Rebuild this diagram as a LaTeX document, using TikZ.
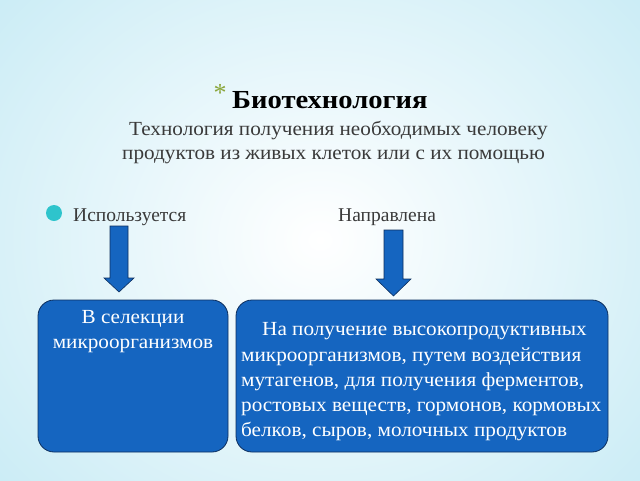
\documentclass[tikz,border=0pt]{standalone}
\usepackage{fontspec}
\setmainfont{Liberation Serif}
\newfontfamily\tnr{Liberation Serif}
\newfontfamily\tnrw{Liberation Serif}[FakeStretch=1.06]
\newfontfamily\tnrt{Liberation Serif}[FakeStretch=1.1]
\definecolor{boxblue}{HTML}{1565C0}
\definecolor{boxedge}{HTML}{0D2F5E}
\definecolor{bgedge}{HTML}{C2E9F4}
\definecolor{dotcyan}{HTML}{2EC4CC}
\definecolor{stargreen}{HTML}{8AA63A}
\definecolor{txtgray}{HTML}{3A3A3A}
\tikzset{
  bluebox/.style={draw=boxedge, line width=0.8pt, fill=boxblue, rounded corners=16pt},
  boxtxt/.style={text=white, font=\tnrw\fontsize{20}{26}\selectfont, inner sep=0pt},
  arrowfill/.style={draw=boxedge, line width=0.6pt, fill=boxblue},
  plain/.style={text=txtgray, font=\tnrw\fontsize{20}{24}\selectfont, inner sep=0pt},
  label/.style={text=txtgray, font=\tnr\fontsize{19.5}{24}\selectfont, inner sep=0pt},
}
\begin{document}
\begin{tikzpicture}[x=1pt,y=-1pt]
\useasboundingbox (0,0) rectangle (640,480);
\shade[inner color=white, outer color=bgedge] (-180,-200) rectangle (820,680);
\clip (0,0) rectangle (640,480);
% title
\node[text=stargreen, font=\tnr\fontsize{26}{26}\selectfont, inner sep=0pt, anchor=center] (star) at (220,93) {*};
\node[font=\tnrt\bfseries\fontsize{26}{28}\selectfont, inner sep=0pt, anchor=base west] (title) at (232,108) {Биотехнология};
\node[plain, anchor=base west] (sub1) at (129,135) {Технология получения необходимых человеку};
\node[plain, anchor=base west] (sub2) at (122,159.5) {продуктов из живых клеток или с их помощью};
% bullet labels
\fill[dotcyan] (54,213) circle (8);
\node[label, anchor=base west] (use) at (73,221.5) {Используется};
\node[label, anchor=base west] (dir) at (338,221.5) {Направлена};
% boxes
\draw[bluebox] (38,300) rectangle (228,452);
\draw[bluebox] (236,300) rectangle (608,452);
\node[boxtxt, anchor=base] (l1) at (133,323) {В селекции};
\node[boxtxt, anchor=base] (l2) at (133,348.5) {микроорганизмов};
\node[boxtxt, anchor=base west] (r1) at (262,335) {На получение высокопродуктивных};
\node[boxtxt, anchor=base west] (r2) at (241,361) {микроорганизмов, путем воздействия};
\node[boxtxt, anchor=base west] (r3) at (241,386.5) {мутагенов, для получения ферментов,};
\node[boxtxt, anchor=base west] (r4) at (241,411) {ростовых веществ, гормонов, кормовых};
\node[boxtxt, anchor=base west] (r5) at (241,436.5) {белков, сыров, молочных продуктов};
% arrows
\draw[arrowfill] (110,226) -- (128,226) -- (128,278) -- (134,278) -- (119,292) -- (104,278) -- (110,278) -- cycle;
\draw[arrowfill] (384,230) -- (403,230) -- (403,279) -- (411,279) -- (393.5,296) -- (376,279) -- (384,279) -- cycle;
\end{tikzpicture}
\end{document}
